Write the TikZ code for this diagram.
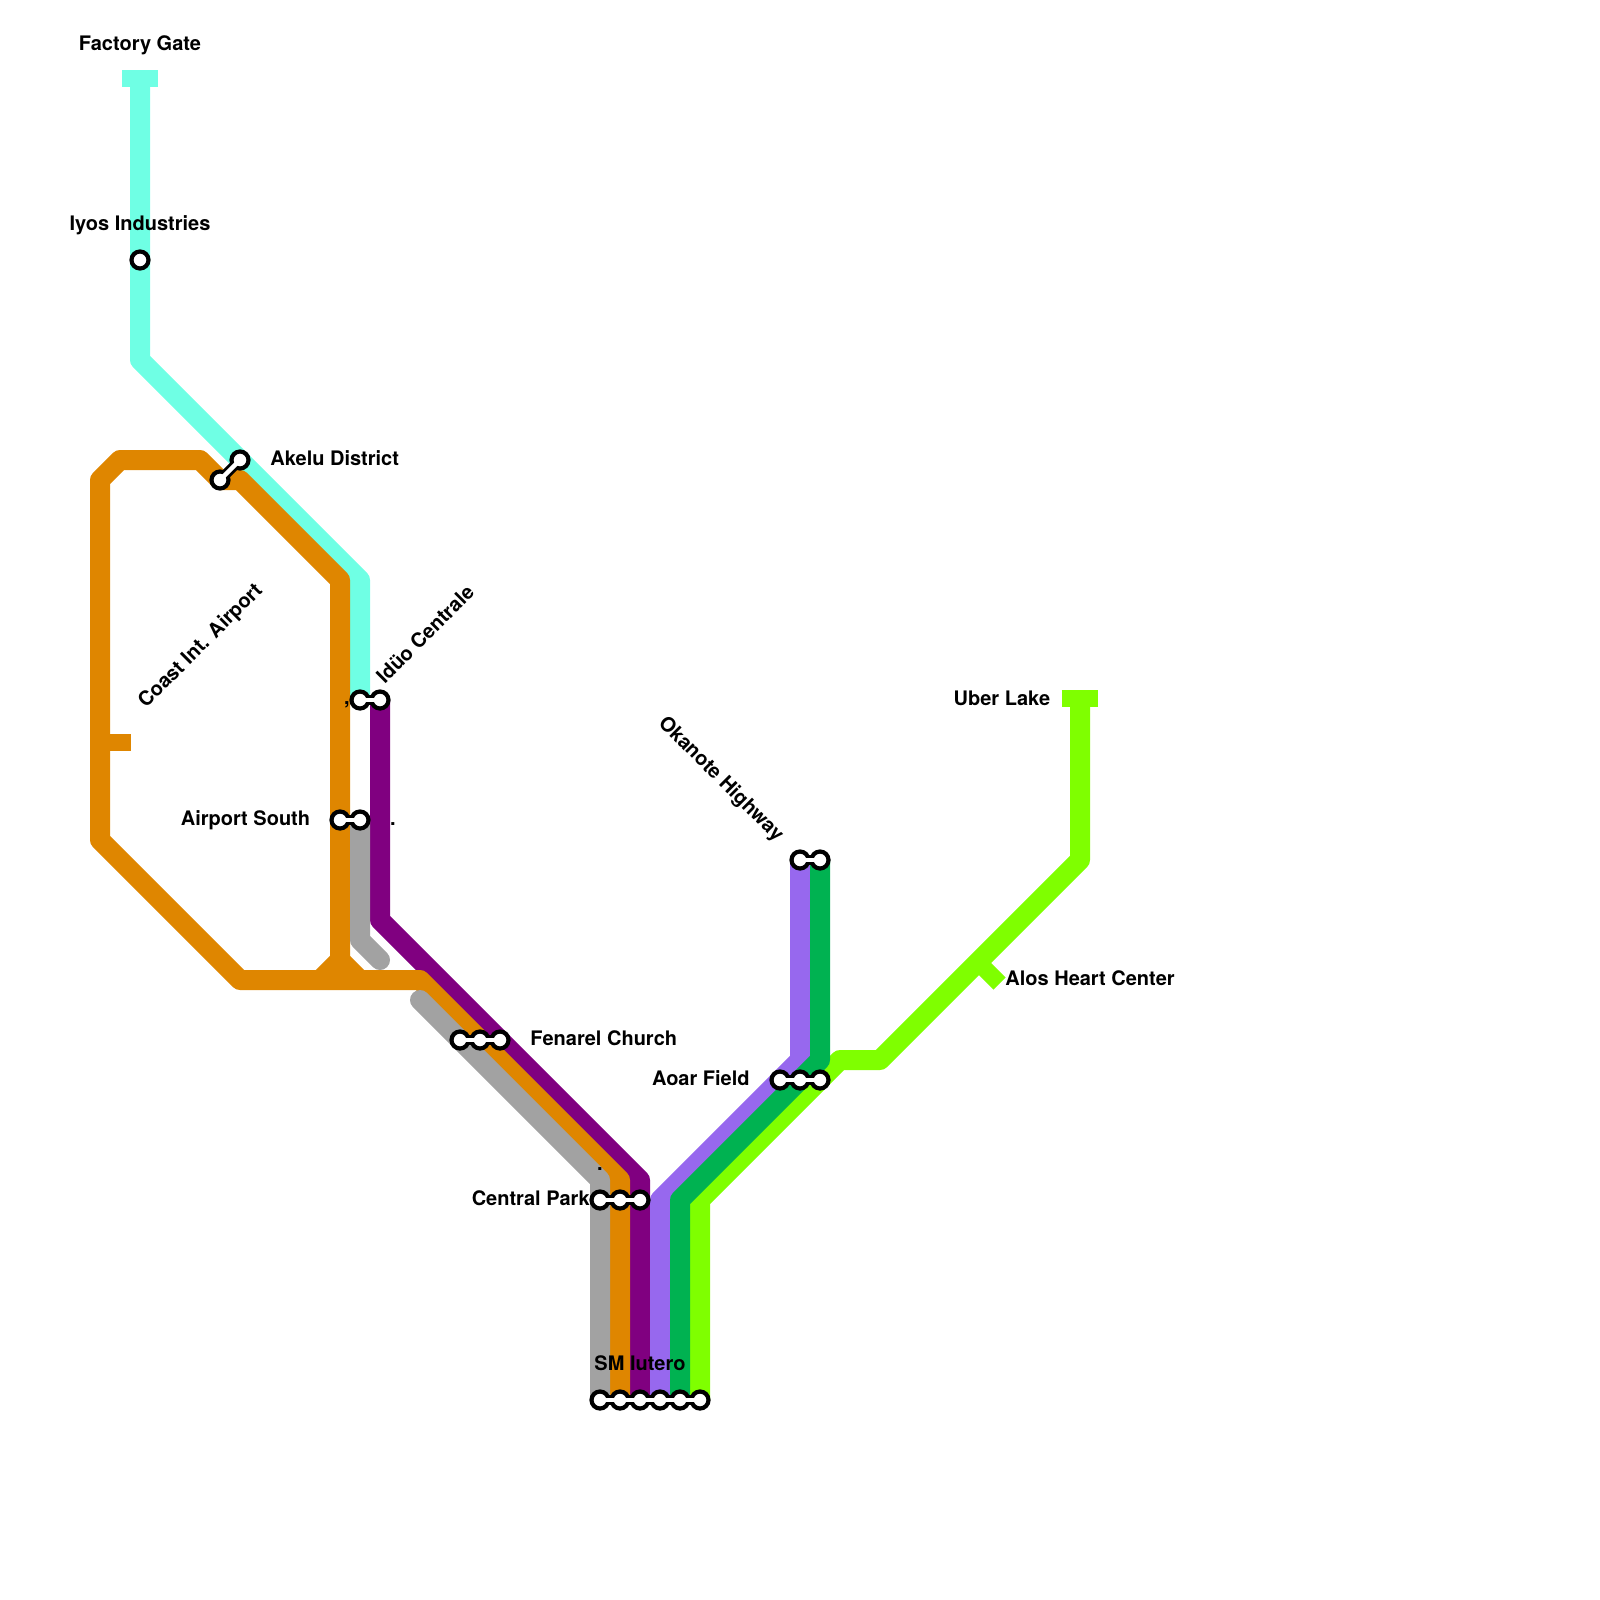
\documentclass[tikz,border=0pt]{standalone}
\usepackage{fontspec}
\setmainfont{TeX Gyre Heros}
\tikzset{
  mline/.style={line width=10pt,line join=round,line cap=butt},
  stub/.style={line width=8.5pt,line cap=butt},
  st/.style={circle,draw=black,fill=white,line width=2.1pt,inner sep=0pt,minimum size=8.5pt},
  lnkb/.style={line width=5pt,black},
  lnkw/.style={line width=2.2pt,white},
  lbl/.style={font=\bfseries\fontsize{10}{12}\selectfont,inner sep=0pt,text=black},
}
\definecolor{cTurq}{HTML}{6FFFE4}
\definecolor{cOrange}{HTML}{DF8600}
\definecolor{cPurple}{HTML}{800080}
\definecolor{cGray}{HTML}{A2A2A2}
\definecolor{cSlate}{HTML}{9768EE}
\definecolor{cGreen}{HTML}{00B251}
\definecolor{cLime}{HTML}{7FFF00}
\begin{document}
\begin{tikzpicture}[x=0.5pt,y=-0.5pt]
\useasboundingbox (0,0) rectangle (1600,1600);
% station positions
\coordinate (c1) at (140,260);
\coordinate (a1) at (240,460);\coordinate (a2) at (220,480);
\coordinate (i1) at (360,700);\coordinate (i2) at (380,700);
\coordinate (p1) at (340,820);\coordinate (p2) at (360,820);
\coordinate (f1) at (460,1040);\coordinate (f2) at (480,1040);\coordinate (f3) at (500,1040);
\coordinate (k1) at (600,1200);\coordinate (k2) at (620,1200);\coordinate (k3) at (640,1200);
\coordinate (s1) at (600,1400);\coordinate (s2) at (620,1400);\coordinate (s3) at (640,1400);
\coordinate (s4) at (660,1400);\coordinate (s5) at (680,1400);\coordinate (s6) at (700,1400);
\coordinate (o1) at (800,860);\coordinate (o2) at (820,860);
\coordinate (r1) at (780,1080);\coordinate (r2) at (800,1080);\coordinate (r3) at (820,1080);
\coordinate (tf) at (140,78.5);
\coordinate (tu) at (1080,698.5);
\coordinate (tc) at (100,742.5);
\coordinate (th) at (978,962);
\coordinate (thend) at (999.5,983.5);
\coordinate (graytop) at (420,1000);
\coordinate (grayend) at (380,960);
\coordinate (orj) at (340,960);
% lines
\draw[mline,cTurq] (tf) -- (140,360) -- (360,580) -- (i1);
\draw[stub,cTurq] (122,78.5) -- (158,78.5);
\draw[mline,cPurple] (i2) -- (380,920) -- (640,1180) -- (s3);
\draw[mline,cOrange] (orj) -- (360,980);
\draw[mline,cOrange] (orj) -- (320,980);
\draw[mline,cOrange] (orj) -- (340,580) -- (240,480) -- (220,480) -- (200,460) -- (120,460) -- (100,480) -- (100,840) -- (240,980) -- (420,980) -- (620,1180) -- (s2);
\draw[stub,cOrange] (tc) -- (131,742.5);
\draw[mline,cGray,line cap=round] (p2) -- (360,940) -- (grayend);
\draw[mline,cGray,line cap=round] (graytop) -- (600,1180) -- (s1);
\draw[mline,cSlate] (o1) -- (800,1060) -- (660,1200) -- (s4);
\draw[mline,cLime] (tu) -- (1080,860) -- (880,1060) -- (840,1060) -- (700,1200) -- (s6);
\draw[stub,cLime] (1061.5,698.5) -- (1098,698.5);
\draw[stub,cLime] (th) -- (thend);
\draw[mline,cGreen] (o2) -- (820,1060) -- (680,1200) -- (s5);
% station links, black part
\draw[lnkb] (a1) -- (a2);
\draw[lnkb] (i1) -- (i2);
\draw[lnkb] (p1) -- (p2);
\draw[lnkb] (f1) -- (f3);
\draw[lnkb] (k1) -- (k3);
\draw[lnkb] (s1) -- (s6);
\draw[lnkb] (o1) -- (o2);
\draw[lnkb] (r1) -- (r3);
% station discs
\foreach \n in {c1,a1,a2,i1,i2,p1,p2,f1,f2,f3,k1,k2,k3,s1,s2,s3,s4,s5,s6,o1,o2,r1,r2,r3}
  \node[st] (n\n) at (\n) {};
% station links, white part
\draw[lnkw] (na1.center) -- (na2.center);
\draw[lnkw] (ni1.center) -- (ni2.center);
\draw[lnkw] (np1.center) -- (np2.center);
\draw[lnkw] (nf1.center) -- (nf3.center);
\draw[lnkw] (nk1.center) -- (nk3.center);
\draw[lnkw] (ns1.center) -- (ns6.center);
\draw[lnkw] (no1.center) -- (no2.center);
\draw[lnkw] (nr1.center) -- (nr3.center);
% labels
\node[lbl] (lf) at (140,45) {Factory Gate};
\node[lbl] (ly) at (140,225) {Iyos Industries};
\node[lbl,anchor=west] (la) at (270,458) {Akelu District};
\node[lbl,rotate=45] (lc) at (201,646.5) {Coast Int. Airport};
\node[lbl,rotate=45] (li) at (425,634) {Idüo Centrale};
\node[lbl,anchor=east] (lp) at (310.5,820) {Airport South};
\node[lbl,anchor=west] (lr) at (530,1038) {Fenarel Church};
\node[lbl,anchor=east] (lk) at (590,1198) {Central Park};
\node[lbl] (ls) at (640,1363) {SM Iutero};
\node[lbl,rotate=-45] (lo) at (720.5,779.5) {Okanote Highway};
\node[lbl,anchor=east] (lq) at (750,1078.5) {Aoar Field};
\node[lbl,anchor=east] (lu) at (1050.5,698) {Uber Lake};
\node[lbl,anchor=west] (lh) at (1005,978) {Alos Heart Center};
\node[lbl] (d1) at (347,705) {,};
\node[lbl] (d2) at (393,824) {.};
\node[lbl] (d3) at (600,1169) {.};
\end{tikzpicture}
\end{document}
